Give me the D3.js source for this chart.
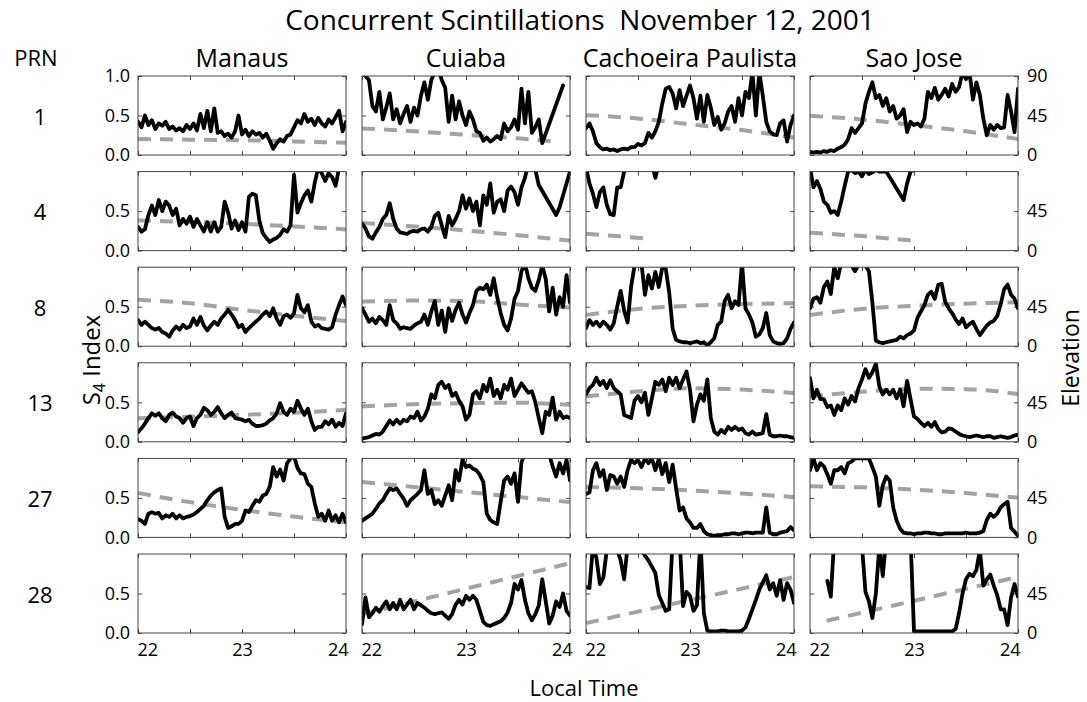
<!DOCTYPE html>
<html><head><meta charset="utf-8">
<script src="https://cdn.jsdelivr.net/npm/d3@7"></script>
<style>
body{margin:0;background:#fff}
svg{display:block}
text{font-family:"Open Sans",sans-serif;fill:#000}
</style>
</head><body><svg id="c" width="1087" height="702"></svg>
<script>
// ---------------- data ----------------
const stations = ["Manaus","Cuiaba","Cachoeira Paulista","Sao Jose"];
const prns = ["1","4","8","13","27","28"];
const xTicks = [22,22.5,23,23.5,24];
const s4Ticks = [0,0.5,1];
const elTicks = [0,45,90];
const tStart = 22, tStep = 1/30; // S4 samples every 2 minutes from 22:00 LT

const s4Manaus1 = [0.42,0.35,0.50,0.38,0.44,0.33,0.40,0.37,0.42,0.33,0.36,0.31,0.34,0.30,0.38,0.33,0.40,0.31,0.52,0.34,0.56,0.30,0.59,0.28,0.30,0.24,0.27,0.22,0.30,0.50,0.26,0.32,0.24,0.30,0.26,0.28,0.22,0.27,0.18,0.08,0.15,0.20,0.17,0.24,0.26,0.35,0.44,0.40,0.52,0.42,0.46,0.38,0.47,0.40,0.36,0.45,0.40,0.48,0.56,0.30,0.42];
const s4Cuiaba1 = [1.05,1.0,0.95,0.62,0.55,0.80,0.45,0.60,0.78,0.45,0.58,0.40,0.52,0.62,0.42,0.60,0.50,0.75,0.92,0.70,0.95,1.05,1.1,0.95,0.85,0.42,0.75,0.45,0.68,0.50,0.38,0.55,0.45,0.30,0.28,0.18,0.22,0.17,0.20,0.24,0.20,0.40,0.30,0.35,0.45,0.32,0.84,0.40,0.80,0.28,0.35,0.45,0.15,null,null,null,null,null,0.88];
const s4Cachoeira1 = [0.34,0.40,0.30,0.15,0.10,0.07,0.08,0.06,0.07,0.05,0.07,0.08,0.07,0.10,0.10,0.14,0.12,0.15,0.28,0.22,0.30,0.42,0.65,0.84,0.86,0.78,0.59,0.82,0.62,0.75,0.88,0.72,0.46,0.75,0.42,0.76,0.60,0.38,0.48,0.32,0.40,0.55,0.62,0.42,0.72,0.50,0.80,0.72,1.05,0.50,1.05,0.75,0.42,0.30,0.26,0.25,0.40,0.44,0.17,0.38,0.50];
const s4SaoJose1 = [0.04,0.03,0.04,0.03,0.05,0.04,0.06,0.05,0.08,0.10,0.13,0.20,0.34,0.28,0.34,0.40,0.65,0.80,0.92,0.72,0.76,0.62,0.72,0.55,0.62,0.46,0.50,0.58,0.29,0.42,0.38,0.40,0.36,0.46,0.80,0.72,0.85,0.70,0.76,0.84,0.74,0.90,0.80,0.86,1.05,0.96,1.05,0.70,0.92,0.76,0.46,0.25,0.38,0.32,0.38,0.34,0.35,0.76,0.55,0.29,0.84];

const s4Manaus4 = [0.30,0.24,0.27,0.45,0.57,0.45,0.64,0.50,0.62,0.57,0.45,0.53,0.32,0.40,0.34,0.43,0.30,0.40,0.32,0.24,0.36,0.24,0.36,0.24,0.30,0.62,0.48,0.28,0.38,0.26,0.36,0.24,0.68,0.72,0.70,0.38,0.22,0.16,0.11,0.14,0.16,0.20,0.27,0.24,0.32,0.96,0.48,0.60,0.70,0.76,0.62,0.86,1.05,0.98,0.88,0.98,0.93,0.82,1.05,1.05,1.05];
const s4Cuiaba4 = [0.34,0.28,0.18,0.15,0.23,0.30,0.40,0.45,0.60,0.40,0.28,0.23,0.22,0.21,0.24,0.25,0.24,0.27,0.28,0.24,0.30,0.44,0.48,0.32,0.17,0.44,0.32,0.40,0.50,0.70,0.53,0.66,0.50,0.62,0.32,0.70,0.58,0.85,0.48,0.62,0.65,0.50,0.76,0.81,0.74,0.58,0.80,0.92,1.1,1.1,1.02,0.83,null,null,null,null,0.45,0.55,0.70,0.85,1.0];
const s4Cachoeira4 = [1.05,0.85,0.72,0.55,0.74,0.80,0.58,0.46,0.45,0.80,0.80,1.0,1.1,1.1,1.1,1.1,1.1,1.1,1.1,1.1,0.92,1.1,1.1];
const s4SaoJose4 = [1.05,0.80,0.88,0.78,0.62,0.58,0.48,0.50,0.45,0.62,0.82,1.0,1.02,0.98,1.0,0.94,1.02,0.97,0.99,1.02,1.0,1.0,1.0,null,null,null,null,0.64,0.85,1.0,1.02];

const s4Manaus8 = [0.33,0.27,0.31,0.27,0.23,0.21,0.23,0.18,0.16,0.12,0.20,0.25,0.21,0.27,0.23,0.25,0.35,0.27,0.37,0.26,0.20,0.26,0.31,0.27,0.35,0.40,0.46,0.40,0.33,0.24,0.27,0.18,0.23,0.27,0.31,0.35,0.40,0.44,0.38,0.48,0.35,0.27,0.38,0.40,0.36,0.42,0.65,0.48,0.43,0.52,0.31,0.25,0.27,0.23,0.22,0.21,0.24,0.40,0.52,0.63,0.52];
const s4Cuiaba8 = [0.48,0.40,0.31,0.35,0.29,0.37,0.33,0.27,0.52,0.33,0.29,0.22,0.24,0.23,0.22,0.26,0.29,0.31,0.40,0.27,0.44,0.57,0.27,0.45,0.18,0.48,0.32,0.46,0.55,0.40,0.30,0.42,0.52,0.70,0.74,0.72,0.78,0.65,0.86,0.62,0.42,0.27,0.20,0.35,0.60,0.70,0.95,1.05,0.86,0.74,0.70,0.84,1.02,0.85,0.44,0.74,0.40,0.62,0.50,0.90,0.55];
const s4Cachoeira8 = [0.23,0.33,0.27,0.31,0.25,0.31,0.27,0.21,0.29,0.50,0.70,0.45,0.30,0.75,1.02,1.05,1.05,0.65,0.90,0.73,0.94,0.75,1.0,0.98,0.68,0.22,0.08,0.06,0.05,0.05,0.04,0.05,0.06,0.04,0.05,0.01,0.05,0.10,0.27,0.31,0.57,0.65,0.48,0.57,0.52,1.05,0.48,0.40,0.30,0.12,0.15,0.23,0.42,0.14,0.06,0.04,0.03,0.04,0.10,0.22,0.30];
const s4SaoJose8 = [0.48,0.60,0.62,0.55,0.75,0.82,0.66,1.0,0.86,1.05,1.05,1.05,1.02,0.95,1.03,1.05,1.02,0.95,0.55,0.07,0.05,0.04,0.05,0.06,0.07,0.08,0.12,0.10,0.14,0.16,0.20,0.36,0.44,0.52,0.65,0.69,0.60,0.78,0.79,0.56,0.48,0.42,0.34,0.28,0.35,0.24,0.28,0.31,0.22,0.14,0.20,0.26,0.30,0.32,0.38,0.53,0.72,0.78,0.65,0.60,0.48];

const s4Manaus13 = [0.12,0.17,0.23,0.30,0.36,0.33,0.36,0.30,0.26,0.34,0.37,0.32,0.30,0.24,0.30,0.32,0.20,0.30,0.34,0.43,0.40,0.34,0.38,0.44,0.36,0.30,0.34,0.37,0.30,0.29,0.28,0.26,0.28,0.23,0.20,0.20,0.21,0.23,0.27,0.30,0.36,0.49,0.38,0.34,0.42,0.38,0.52,0.42,0.34,0.42,0.26,0.15,0.19,0.19,0.26,0.22,0.28,0.19,0.24,0.20,0.36];
const s4Cuiaba13 = [0.04,0.05,0.06,0.08,0.10,0.09,0.13,0.20,0.27,0.22,0.28,0.23,0.28,0.26,0.32,0.30,0.38,0.27,0.32,0.42,0.60,0.55,0.72,0.76,0.68,0.72,0.58,0.62,0.52,0.45,0.28,0.34,0.60,0.64,0.55,0.72,0.64,0.80,0.58,0.66,0.55,0.72,0.66,0.80,0.58,0.66,0.74,0.68,0.62,0.64,0.50,0.30,0.11,0.38,0.34,0.56,0.28,0.38,0.30,0.32,0.30];
const s4Cachoeira13 = [0.60,0.68,0.72,0.81,0.72,0.77,0.68,0.78,0.68,0.64,0.60,0.34,0.32,0.30,0.52,0.58,0.50,0.62,0.34,0.55,0.76,0.72,0.79,0.64,0.81,0.72,0.81,0.68,0.79,0.89,0.66,0.26,0.47,0.60,0.52,0.79,0.30,0.13,0.09,0.15,0.11,0.19,0.15,0.19,0.15,0.17,0.11,0.09,0.13,0.09,0.10,0.11,0.35,0.09,0.07,0.07,0.08,0.07,0.07,0.06,0.05];
const s4SaoJose13 = [0.81,0.55,0.66,0.54,0.54,0.44,0.46,0.34,0.46,0.40,0.55,0.47,0.58,0.51,0.68,0.79,0.92,0.81,0.88,0.99,0.70,0.60,0.66,0.60,0.66,0.55,0.66,0.45,0.77,0.54,0.32,0.29,0.24,0.20,0.24,0.19,0.25,0.16,0.12,0.13,0.17,0.16,0.13,0.10,0.08,0.07,0.06,0.07,0.08,0.07,0.06,0.07,0.07,0.05,0.06,0.07,0.06,0.05,0.06,0.08,0.09];

const s4Manaus27 = [0.23,0.21,0.17,0.30,0.32,0.30,0.31,0.24,0.28,0.26,0.30,0.24,0.28,0.24,0.26,0.27,0.29,0.32,0.36,0.40,0.47,0.53,0.57,0.60,0.62,0.26,0.12,0.14,0.17,0.17,0.21,0.34,0.32,0.40,0.47,0.45,0.53,0.55,0.64,0.89,0.77,0.86,0.72,0.94,1.0,1.03,0.88,0.81,0.80,0.68,0.64,0.43,0.26,0.30,0.21,0.34,0.21,0.28,0.19,0.30,0.19];
const s4Cuiaba27 = [0.21,0.24,0.27,0.30,0.36,0.43,0.47,0.55,0.62,0.60,0.62,0.55,0.49,0.40,0.47,0.51,0.55,0.60,0.85,0.55,0.60,0.42,0.47,0.40,0.53,0.66,0.47,0.85,0.72,0.99,0.89,0.91,0.87,0.85,0.79,0.70,0.30,0.22,0.19,0.17,0.45,0.72,0.77,0.68,0.81,0.45,0.95,1.06,1.1,1.1,1.1,1.1,1.1,1.1,1.05,0.90,0.77,0.94,0.81,0.98,0.72];
const s4Cachoeira27 = [0.55,0.57,0.85,0.94,0.77,0.85,0.60,0.79,0.77,0.68,0.77,0.64,0.85,0.98,0.94,0.98,0.89,1.0,0.94,1.0,0.85,0.99,0.80,0.94,0.70,0.92,0.62,0.34,0.38,0.24,0.19,0.12,0.12,0.17,0.08,0.04,0.03,0.02,0.03,0.03,0.04,0.04,0.05,0.05,0.04,0.05,0.06,0.06,0.05,0.06,0.06,0.06,0.38,0.06,0.04,0.04,0.06,0.07,0.08,0.13,0.09];
const s4SaoJose27 = [0.85,1.0,0.85,0.94,0.90,0.80,0.68,0.85,0.85,0.89,0.81,0.94,0.96,1.0,1.0,1.0,1.0,1.0,0.89,0.77,0.40,0.66,0.77,0.72,0.38,0.21,0.11,0.06,0.05,0.05,0.04,0.05,0.05,0.06,0.06,0.05,0.05,0.04,0.04,0.05,0.05,0.05,0.05,0.05,0.05,0.06,0.05,0.05,0.05,0.06,0.08,0.22,0.30,0.26,0.30,0.38,0.42,0.45,0.12,0.07,0.02];

const s4Manaus28 = [];
const s4Cuiaba28 = [0.11,0.45,0.20,0.25,0.32,0.27,0.34,0.40,0.30,0.38,0.30,0.42,0.30,0.36,0.42,0.30,0.38,0.35,0.32,0.28,0.25,0.24,0.25,0.26,0.22,0.18,0.24,0.36,0.42,0.36,0.47,0.42,0.47,0.42,0.28,0.14,0.10,0.09,0.11,0.13,0.15,0.19,0.26,0.38,0.62,0.55,0.67,0.42,0.25,0.16,0.24,0.35,0.68,0.40,0.12,0.22,0.40,0.33,0.50,0.28,0.22];
const s4Cachoeira28 = [0.58,0.57,1.1,0.95,0.62,0.70,1.05,1.1,1.1,1.05,0.92,0.68,1.1,1.2,1.2,1.1,1.05,0.98,0.92,0.84,0.76,0.48,0.38,0.28,0.30,1.2,1.3,1.2,0.34,0.52,0.47,0.28,0.35,1.2,0.25,0.03,0.02,0.02,0.02,0.03,0.03,0.02,0.02,0.02,0.02,0.03,0.07,0.18,0.30,0.42,0.55,0.64,0.73,0.55,0.63,0.47,0.67,0.42,0.63,0.55,0.38];
const s4SaoJose28 = [null,null,null,null,null,0.66,0.46,1.2,1.2,1.2,1.2,1.2,1.2,1.2,1.2,1.1,0.52,0.40,0.19,0.50,1.1,0.72,1.2,1.2,1.2,1.2,1.2,1.2,1.2,1.2,0.02,0.02,0.02,0.02,0.02,0.02,0.02,0.02,0.02,0.02,0.02,0.02,0.05,0.25,0.50,0.68,0.75,0.72,0.80,1.05,0.60,0.68,0.74,0.60,0.48,0.30,0.30,0.10,0.45,0.62,0.46];

// elevation (degrees) as [local time, elevation]
const elManaus1 = [[22,18.2],[22.5,17.5],[23,16.8],[23.5,15.5],[24,14.0]];
const elCuiaba1 = [[22,30.3],[22.5,27],[23,23],[23.5,19],[23.83,15.5]];
const elCachoeira1 = [[22,45.4],[22.5,41.6],[23,35],[23.5,28.4],[24,19.7]];
const elSaoJose1 = [[22,44.6],[22.5,40.5],[23,34],[23.5,27],[24,18.2]];
const elManaus4 = [[22,34.5],[22.5,32.5],[23,30.5],[23.5,27.5],[24,24.1]];
const elCuiaba4 = [[22,31.4],[22.5,27.5],[23,23],[23.5,17.5],[24,11.5]];
const elCachoeira4 = [[22,19.1],[22.3,16.5],[22.61,13.4]];
const elSaoJose4 = [[22,20.3],[22.5,16.5],[22.97,11.5]];
const elManaus8 = [[22,52.9],[22.5,49],[23,41.4],[23.5,34.8],[24,28.7]];
const elCuiaba8 = [[22,50.9],[22.5,52],[23,51.4],[23.5,47.5],[24,44]];
const elCachoeira8 = [[22,35.6],[22.5,42.5],[23,46],[23.5,48],[24,49]];
const elSaoJose8 = [[22,35.6],[22.5,42.5],[23,46],[23.5,48.5],[24,50.2]];
const elManaus13 = [[22,26.8],[22.5,28.5],[23,30.6],[23.5,33.2],[24,36.4]];
const elCuiaba13 = [[22,40.2],[22.5,42.8],[23,44],[23.5,44.5],[24,42.1]];
const elCachoeira13 = [[22,51.7],[22.5,57.4],[23,61],[23.5,59.5],[24,55.5]];
const elSaoJose13 = [[22,51.7],[22.5,57],[23,60.5],[23.5,60],[24,54.4]];
const elManaus27 = [[22,50.6],[22.5,40.2],[23,31.4],[23.5,23.7],[24,17.2]];
const elCuiaba27 = [[22,63.2],[22.5,57.5],[23,51.7],[23.5,46],[24,40.2]];
const elCachoeira27 = [[22,57.4],[22.5,56],[23,53.6],[23.5,50],[24,46]];
const elSaoJose27 = [[22,58.2],[22.5,57],[23,54.4],[23.5,50.5],[24,45.2]];
const elManaus28 = [];
const elCuiaba28 = [[22,21.4],[22.5,36],[23,50.5],[23.5,65],[24,79.5]];
const elCachoeira28 = [[22,11.25],[22.5,24.4],[23,37.5],[23.5,50.6],[24,63.75]];
const elSaoJose28 = [[22.16,13.9],[22.5,23.1],[23,36.7],[23.5,50.3],[23.95,62.6]];

const s4Table = [
  [s4Manaus1,s4Cuiaba1,s4Cachoeira1,s4SaoJose1],
  [s4Manaus4,s4Cuiaba4,s4Cachoeira4,s4SaoJose4],
  [s4Manaus8,s4Cuiaba8,s4Cachoeira8,s4SaoJose8],
  [s4Manaus13,s4Cuiaba13,s4Cachoeira13,s4SaoJose13],
  [s4Manaus27,s4Cuiaba27,s4Cachoeira27,s4SaoJose27],
  [s4Manaus28,s4Cuiaba28,s4Cachoeira28,s4SaoJose28]];
const elTable = [
  [elManaus1,elCuiaba1,elCachoeira1,elSaoJose1],
  [elManaus4,elCuiaba4,elCachoeira4,elSaoJose4],
  [elManaus8,elCuiaba8,elCachoeira8,elSaoJose8],
  [elManaus13,elCuiaba13,elCachoeira13,elSaoJose13],
  [elManaus27,elCuiaba27,elCachoeira27,elSaoJose27],
  [elManaus28,elCuiaba28,elCachoeira28,elSaoJose28]];

// ---------------- layout ----------------
const svg = d3.select("#c");
const left0 = 138, colStep = 224, pw = 208;
const top0 = 76, rowStep = 95.6, ph = 79;
const x = d3.scaleLinear().domain([22,24]).range([0,pw]);
const y = d3.scaleLinear().domain([0,1]).range([ph,0]);
const yEl = d3.scaleLinear().domain([0,90]).range([ph,0]);
const frameColor = "#444";

const s4Line = d3.line().x(d=>x(d.t)).y(d=>y(d.v)).curve(d3.curveLinear);
const elLine = d3.line().x(d=>x(d[0])).y(d=>yEl(d[1])).curve(d3.curveMonotoneX);

function styleAxis(g){
  g.select(".domain").remove();
  g.selectAll(".tick line").attr("stroke",frameColor).attr("stroke-width",1);
  g.selectAll("text").attr("font-family","'Open Sans',sans-serif").attr("font-size",18).attr("fill","#000");
}

prns.forEach((p,r)=>{
  stations.forEach((s,c)=>{
    const g = svg.append("g").attr("transform",`translate(${left0+c*colStep},${top0+r*rowStep})`);
    const cid = `clip-${r}-${c}`;
    g.append("clipPath").attr("id",cid).append("rect").attr("width",pw).attr("height",ph);

    g.append("g").attr("transform",`translate(0,${ph})`)
      .call(d3.axisBottom(x).tickValues(xTicks).tickSizeInner(-4).tickSizeOuter(0).tickPadding(10)
        .tickFormat(d => (r===prns.length-1 && Number.isInteger(d)) ? d : ""))
      .call(styleAxis)
      .call(gg => gg.selectAll("text")
        .attr("text-anchor", d => d===22 ? "start" : d===24 ? "end" : "middle")
        .attr("dx", d => d===22 ? -1 : d===24 ? 2 : 0));
    g.append("g")
      .call(d3.axisTop(x).tickValues(xTicks).tickSizeInner(-4).tickSizeOuter(0).tickFormat(""))
      .call(styleAxis);
    g.append("g")
      .call(d3.axisLeft(y).tickValues(r===0 ? s4Ticks : s4Ticks.slice(0,2)).tickSizeInner(-4).tickSizeOuter(0).tickPadding(8)
        .tickFormat(c===0 ? d3.format(".1f") : ""))
      .call(styleAxis);
    g.append("g").attr("transform",`translate(${pw},0)`)
      .call(d3.axisRight(yEl).tickValues(r===0 ? elTicks : elTicks.slice(0,2)).tickSizeInner(-4).tickSizeOuter(0).tickPadding(9)
        .tickFormat(c===stations.length-1 ? d=>d : ""))
      .call(styleAxis);

    const plot = g.append("g").attr("clip-path",`url(#${cid})`);
    const el = elTable[r][c];
    if (el.length) plot.append("path").datum(el).attr("d",elLine)
      .attr("fill","none").attr("stroke","#a3a3a3").attr("stroke-width",4)
      .attr("stroke-dasharray","13,9");
    const s4 = s4Table[r][c].map((v,i)=>({t:tStart+i*tStep, v})).filter(d=>d.v!==null);
    if (s4.length) plot.append("path").datum(s4).attr("d",s4Line)
      .attr("fill","none").attr("stroke","#000").attr("stroke-width",3.8)
      .attr("stroke-linejoin","round").attr("stroke-linecap","round");

    g.append("rect").attr("width",pw).attr("height",ph)
      .attr("fill","none").attr("stroke",frameColor).attr("stroke-width",1);
  });
  svg.append("text").attr("x",40).attr("y",top0+r*rowStep+ph/2)
    .attr("text-anchor","middle").attr("dominant-baseline","central")
    .attr("font-size",22).text(p);
});

stations.forEach((s,c)=>{
  svg.append("text").attr("x",left0+c*colStep+pw/2).attr("y",67)
    .attr("text-anchor","middle").attr("font-size",25).text(s);
});
svg.append("text").attr("x",36).attr("y",66).attr("text-anchor","middle").attr("font-size",22).text("PRN");
svg.append("text").attr("x",580).attr("y",30).attr("text-anchor","middle").attr("font-size",28)
  .style("white-space","pre").text("Concurrent Scintillations  November 12, 2001");
svg.append("text").attr("x",584).attr("y",696).attr("text-anchor","middle").attr("font-size",22).text("Local Time");
const s4Label = svg.append("text").attr("transform","translate(100,360) rotate(-90)")
  .attr("text-anchor","middle").attr("font-size",24);
s4Label.append("tspan").text("S");
s4Label.append("tspan").attr("font-size",16).attr("dy",5).text("4");
s4Label.append("tspan").attr("dy",-5).text(" Index");
svg.append("text").attr("transform","translate(1079,358) rotate(-90)")
  .attr("text-anchor","middle").attr("font-size",23).text("Elevation");
</script>
</body></html>
